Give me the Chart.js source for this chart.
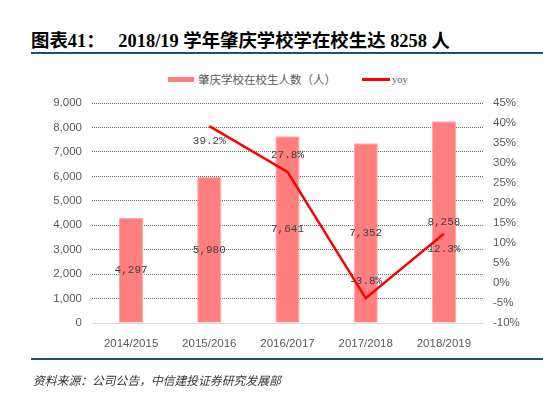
<!DOCTYPE html>
<html>
<head>
<meta charset="utf-8">
<script src="https://cdn.jsdelivr.net/npm/chart.js@4/dist/chart.umd.min.js"></script>
<style>
  html, body { margin: 0; padding: 0; background: #fff; }
  #wrap { position: relative; width: 543px; height: 398px; overflow: hidden; }
  #chart { position: absolute; left: 0; top: 0; }
  .title {
    position: absolute; left: 31px; top: 26px; white-space: pre;
    font: bold 18.4px "Liberation Serif", "Noto Sans CJK SC", serif; color: #000;
  }
  .rule { position: absolute; left: 31px; right: 0; background: #1f4e79; }
  .legend {
    position: absolute; top: 72px; left: 0; width: 543px; height: 16px;
    font: 11.5px "Noto Sans CJK SC", sans-serif; color: #595959;
  }
  .legend span { position: absolute; top: 0; line-height: 14px; }
  .source {
    position: absolute; left: 33px; top: 371px;
    font: italic 11.8px "Noto Sans CJK SC", sans-serif; color: #333;
  }
</style>
</head>
<body>
<div id="wrap">
  <div class="title">图表41：   2018/19 学年肇庆学校学在校生达 8258 人</div>
  <div class="rule" style="top:52px;height:2px;"></div>
  <div class="legend">
    <span style="left:168px;top:5px;width:26px;height:5px;background:#ff7f7f;"></span>
    <span style="left:198px;">肇庆学校在校生人数（人）</span>
    <span style="left:362px;top:6px;width:28px;height:3px;background:#ff0000;"></span>
    <span style="left:392px;top:1px;font-family:'Liberation Serif',serif;font-size:10.5px;">yoy</span>
  </div>
  <canvas id="chart" width="543" height="398"></canvas>
  <div class="rule" style="top:358px;height:1.5px;"></div>
  <div class="source">资料来源：公司公告，中信建投证券研究发展部</div>
</div>
<script>
// 数据
const years = ['2014/2015', '2015/2016', '2016/2017', '2017/2018', '2018/2019'];
const students = [4297, 5980, 7641, 7352, 8258];
const yoy = [null, 39.2, 27.8, -3.8, 12.3];
// yoy 标签在点的上方(-1)或下方(1)
const yoyLabelSide = [0, 1, -1, -1, 1];

// 数据标签
const dataLabels = {
  id: 'dataLabels',
  afterDatasetsDraw(chart) {
    const ctx = chart.ctx;
    ctx.save();
    ctx.font = '11px "Liberation Mono", monospace';
    ctx.fillStyle = '#404040';
    ctx.textAlign = 'center';
    ctx.textBaseline = 'middle';
    chart.getDatasetMeta(0).data.forEach((bar, i) => {
      const y = (bar.y + bar.base) / 2;
      ctx.fillText(students[i].toLocaleString('en-US'), bar.x, y);
    });
    chart.getDatasetMeta(1).data.forEach((pt, i) => {
      if (yoy[i] === null) return;
      const off = yoyLabelSide[i] > 0 ? 15 : -17;
      ctx.fillText(yoy[i].toFixed(1) + '%', pt.x, pt.y + off);
    });
    ctx.restore();
  }
};

const tickFont = { family: '"Liberation Sans", Arial, sans-serif', size: 11.5 };

new Chart(document.getElementById('chart'), {
  data: {
    labels: years,
    datasets: [{
      type: 'bar',
      label: '肇庆学校在校生人数（人）',
      data: students,
      backgroundColor: '#ff7f7f',
      borderColor: '#ffa8a8',
      borderWidth: 1,
      categoryPercentage: 1,
      barPercentage: 0.31,
      yAxisID: 'y',
      order: 2
    }, {
      type: 'line',
      label: 'yoy',
      data: yoy,
      borderColor: '#ff0000',
      borderWidth: 2.5,
      pointRadius: 0,
      tension: 0,
      yAxisID: 'y2',
      order: 1
    }]
  },
  options: {
    responsive: false,
    animation: false,
    layout: { padding: { top: 103, bottom: 50, left: 0, right: 0 } },
    plugins: { legend: { display: false }, tooltip: { enabled: false } },
    scales: {
      x: {
        grid: { display: false },
        border: { color: '#d9d9d9' },
        ticks: { color: '#595959', font: tickFont, padding: 6, maxRotation: 0 },
        afterFit(s) { s.height = 25; }
      },
      y: {
        position: 'left',
        min: 0, max: 9000,
        ticks: {
          stepSize: 1000, color: '#595959', font: tickFont, padding: 10,
          callback: v => v.toLocaleString('en-US')
        },
        grid: {
          color: ctx => ctx.tick.value === 0 ? 'rgba(0,0,0,0)' : '#6e6e6e',
          drawTicks: false
        },
        border: { display: false, dash: [1, 1] },
        afterFit(s) { s.width = 92; }
      },
      y2: {
        position: 'right',
        min: -10, max: 45,
        ticks: { stepSize: 5, color: '#595959', font: tickFont, padding: 10, callback: v => v + '%' },
        grid: { display: false, drawTicks: false },
        border: { display: false },
        afterFit(s) { s.width = 60; }
      }
    }
  },
  plugins: [dataLabels]
});
</script>
</body>
</html>
